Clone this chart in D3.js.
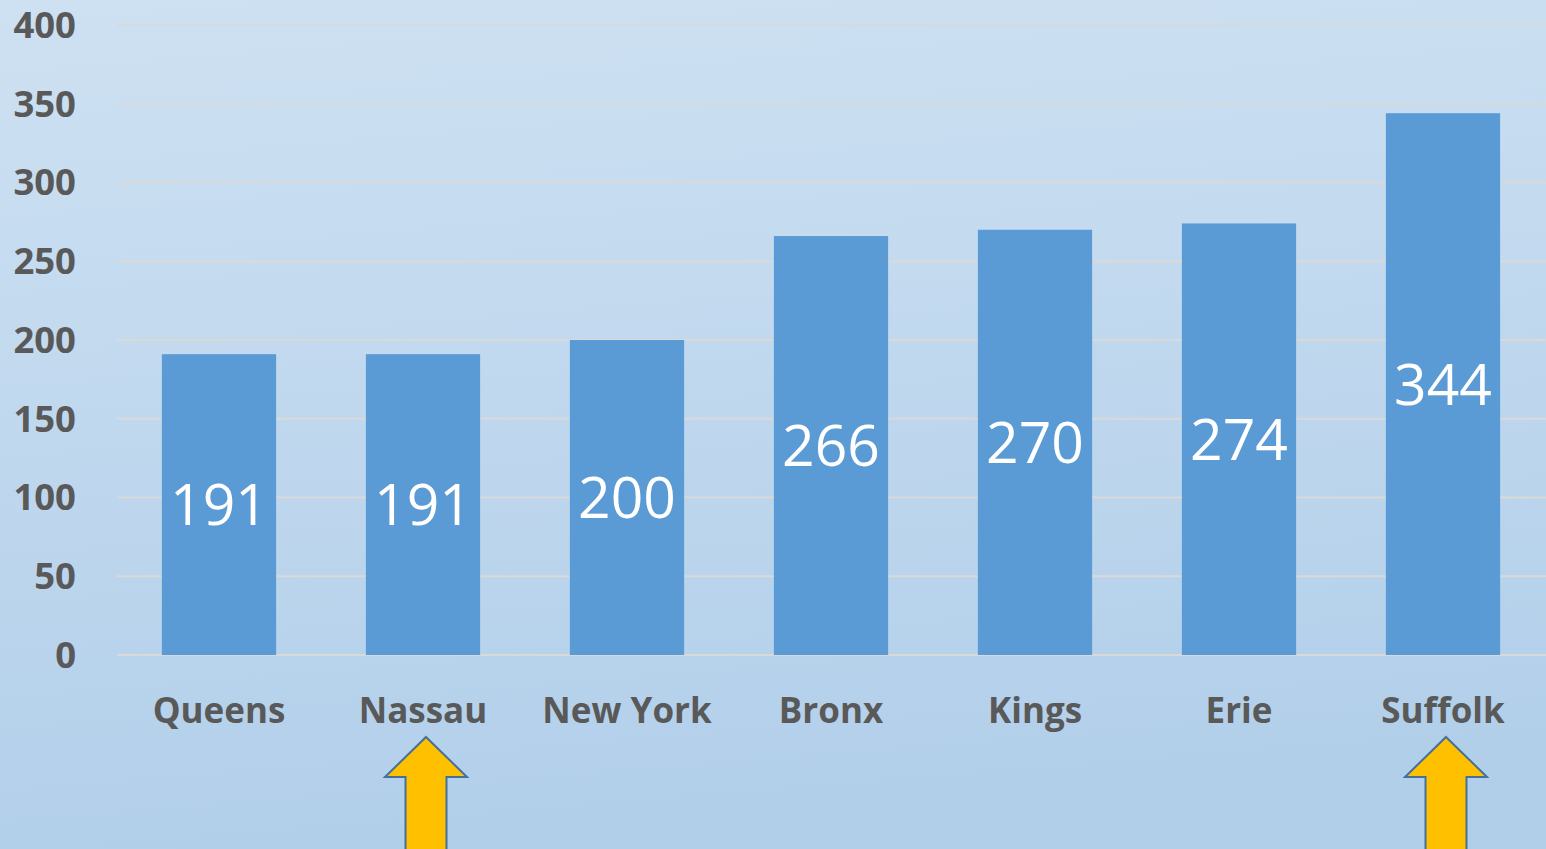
<!DOCTYPE html>
<html lang="en">
<head>
<meta charset="utf-8">
<title>Counties bar chart</title>
<script src="https://d3js.org/d3.v7.min.js"></script>
<style>
    html, body { margin: 0; padding: 0; overflow: hidden; }
    svg { display: block; }
</style>
</head>
<body>
<div id="chart"></div>
<script>
    // data
    var counties = ['Queens', 'Nassau', 'New York', 'Bronx', 'Kings', 'Erie', 'Suffolk'];
    var values = [191, 191, 200, 266, 270, 274, 344];
    var yTicks = [0, 50, 100, 150, 200, 250, 300, 350, 400];
    var marked = ['Nassau', 'Suffolk'];   // counties with an arrow under them

    var width = 1546, height = 849;
    var margin = { top: 25, right: 1, bottom: 194, left: 117 };

    var svg = d3.select('#chart').append('svg')
        .attr('width', width)
        .attr('height', height);

    // background gradient
    var grad = svg.append('defs').append('linearGradient')
        .attr('id', 'bg').attr('x1', 0).attr('y1', 0).attr('x2', 0.15).attr('y2', 1);
    grad.append('stop').attr('offset', '0%').attr('stop-color', '#cee1f2');
    grad.append('stop').attr('offset', '100%').attr('stop-color', '#b2cfea');
    svg.append('rect').attr('width', width).attr('height', height).attr('fill', 'url(#bg)');

    var x = d3.scaleBand()
        .domain(counties)
        .range([margin.left, width - margin.right])
        .paddingInner(0.44)
        .paddingOuter(0.22);

    var y = d3.scaleLinear()
        .domain([0, 400])
        .range([height - margin.bottom, margin.top]);

    // gridlines
    svg.append('g')
        .selectAll('line')
        .data(yTicks)
        .enter().append('line')
        .attr('x1', margin.left)
        .attr('x2', width)
        .attr('y1', function (d) { return y(d); })
        .attr('y2', function (d) { return y(d); })
        .attr('stroke', '#d9d9d9')
        .attr('stroke-width', 2);

    // y axis labels
    var yAxis = d3.axisLeft(y).tickValues(yTicks).tickSize(0).tickPadding(0);
    var gy = svg.append('g')
        .attr('transform', 'translate(76,0)')
        .call(yAxis);
    gy.select('.domain').remove();
    gy.selectAll('text')
        .attr('fill', '#595959')
        .attr('font-family', "'Open Sans', sans-serif")
        .attr('font-weight', 'bold')
        .attr('font-size', '36.5px')
        .attr('dy', '0.34em');

    // bars
    svg.append('g')
        .selectAll('rect')
        .data(values)
        .enter().append('rect')
        .attr('x', function (d, i) { return x(counties[i]); })
        .attr('y', function (d) { return y(d); })
        .attr('width', x.bandwidth())
        .attr('height', function (d) { return y(0) - y(d); })
        .attr('fill', '#5b9bd5');

    // value labels inside bars
    svg.append('g')
        .selectAll('text')
        .data(values)
        .enter().append('text')
        .attr('x', function (d, i) { return x(counties[i]) + x.bandwidth() / 2; })
        .attr('y', function (d) { return (y(d) + y(0)) / 2; })
        .attr('dy', '0.36em')
        .attr('text-anchor', 'middle')
        .attr('fill', '#ffffff')
        .attr('font-family', "'Open Sans', sans-serif")
        .attr('font-size', '57px')
        .text(function (d) { return d; });

    // category labels
    var xAxis = d3.axisBottom(x).tickSize(0).tickPadding(0);
    var gx = svg.append('g')
        .attr('transform', 'translate(0,' + y(0) + ')')
        .call(xAxis);
    gx.select('.domain').remove();
    gx.selectAll('text')
        .attr('y', 55)
        .attr('dy', '0.36em')
        .attr('fill', '#595959')
        .attr('font-family', "'Open Sans', sans-serif")
        .attr('font-weight', 'bold')
        .attr('font-size', '35px');

    // yellow arrows pointing up at the marked counties
    function arrowPath(cx) {
        var top = 737, headBase = 777, bottom = 860;
        var headHalf = 41, shaftHalf = 20.5;
        return 'M' + cx + ',' + top +
            'L' + (cx + headHalf) + ',' + headBase +
            'L' + (cx + shaftHalf) + ',' + headBase +
            'L' + (cx + shaftHalf) + ',' + bottom +
            'L' + (cx - shaftHalf) + ',' + bottom +
            'L' + (cx - shaftHalf) + ',' + headBase +
            'L' + (cx - headHalf) + ',' + headBase + 'Z';
    }
    svg.append('g')
        .selectAll('path')
        .data(marked)
        .enter().append('path')
        .attr('d', function (d) { return arrowPath(x(d) + x.bandwidth() / 2 + 3); })
        .attr('fill', '#ffc000')
        .attr('stroke', '#41719c')
        .attr('stroke-width', 2);
</script>
</body>
</html>
